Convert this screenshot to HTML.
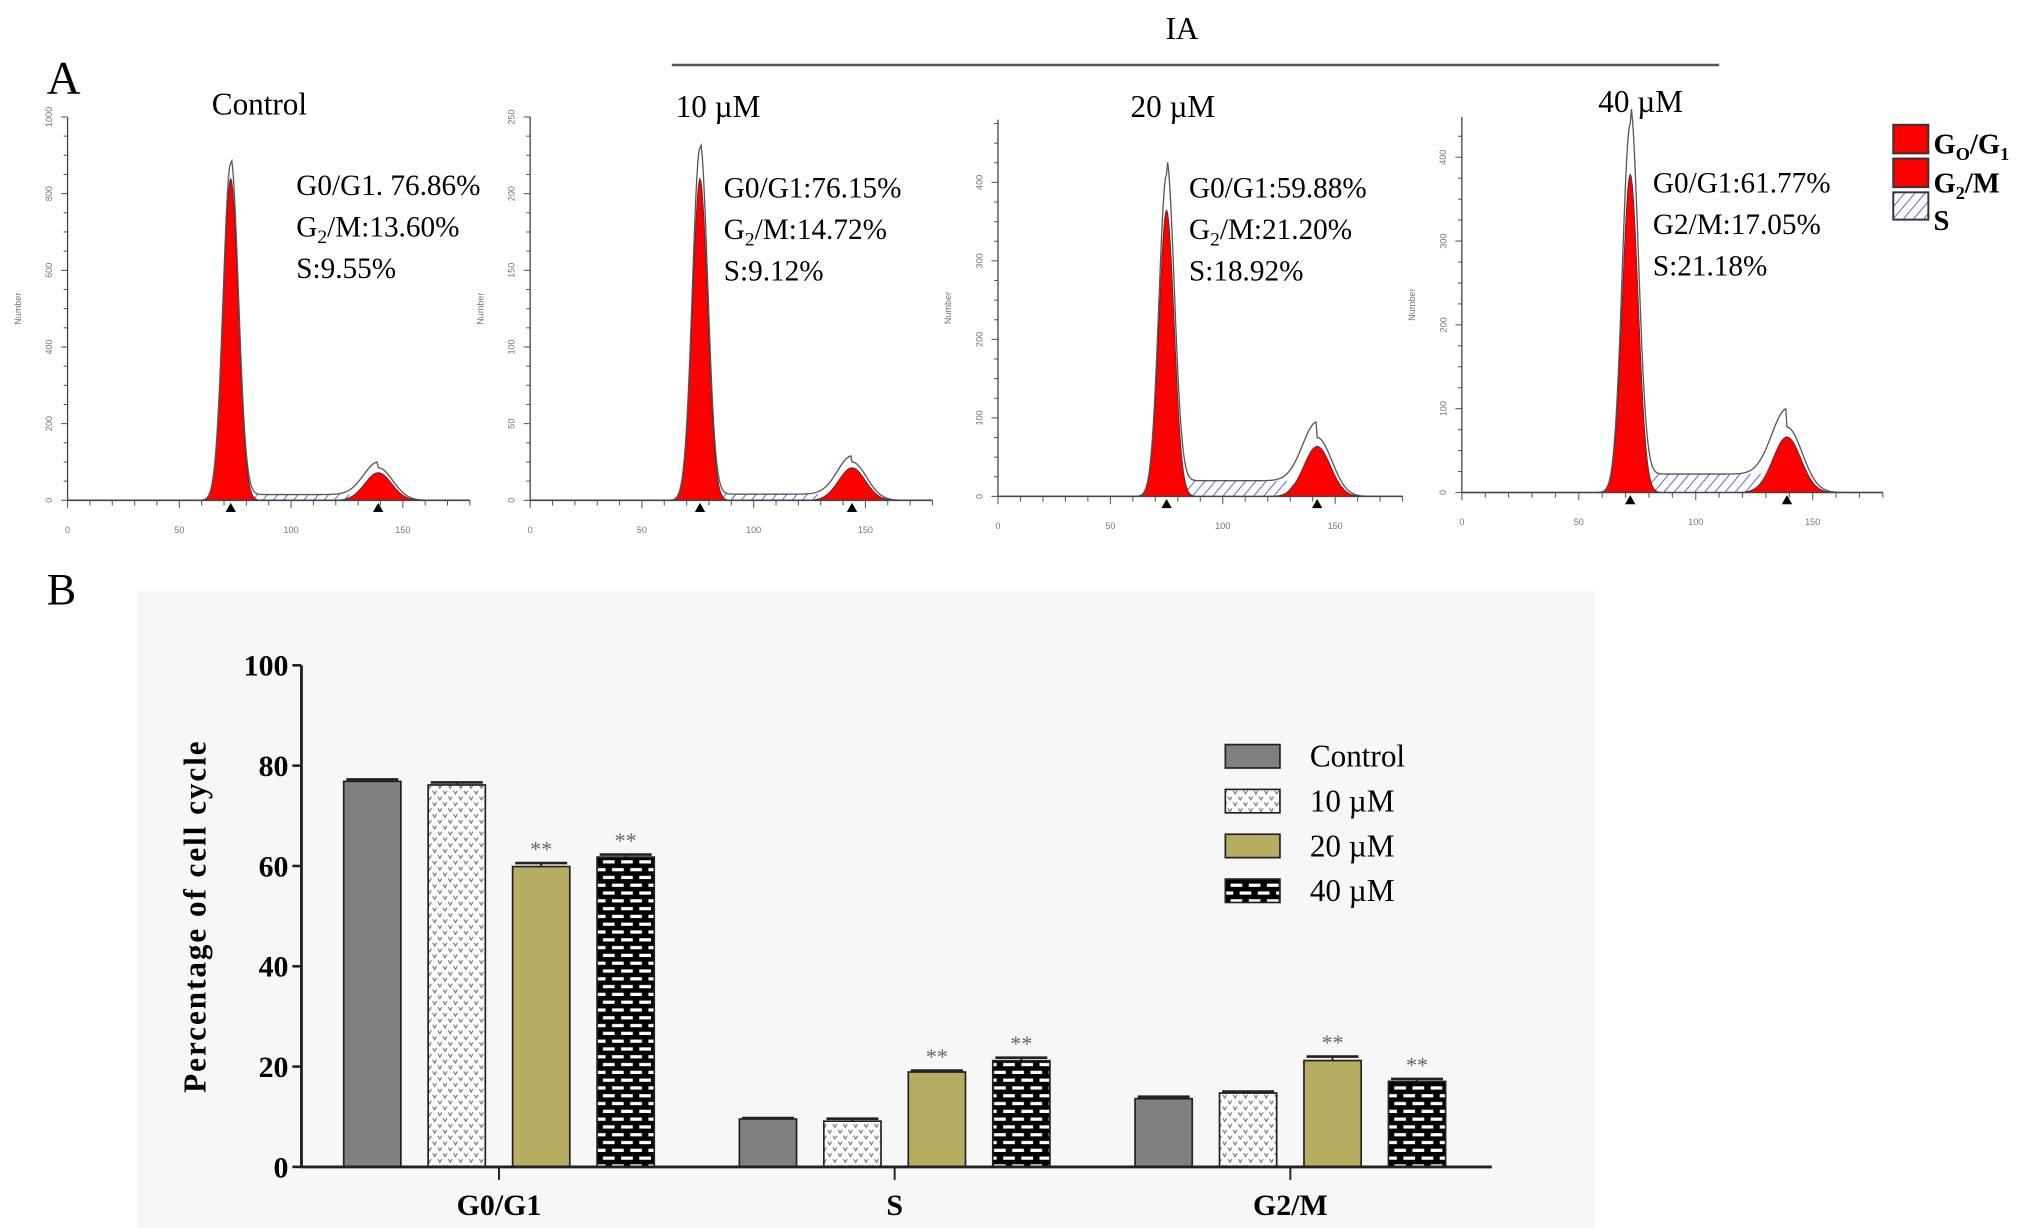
<!DOCTYPE html>
<html><head><meta charset="utf-8"><style>
html,body{margin:0;padding:0;background:#fff;}
svg{display:block;}
text{font-family:"Liberation Serif",serif;}
.sm{font-family:"Liberation Sans",sans-serif;font-size:7px;fill:#777;}
</style></head><body>
<svg id="fig" width="2031" height="1228" viewBox="0 0 1563 945" xmlns="http://www.w3.org/2000/svg">
<defs>
<pattern id="hatch" width="6" height="6" patternUnits="userSpaceOnUse" patternTransform="rotate(40)">
<rect width="6" height="6" fill="#fff"/><line x1="0" y1="0" x2="0" y2="6" stroke="#6a6ad8" stroke-width="1.6"/></pattern>
<pattern id="dots" width="8" height="9" patternUnits="userSpaceOnUse">
<rect width="8" height="9" fill="#fff"/><path d="M1 1 L2.5 3.5 L4 1 M5 5.5 L6.5 8 L8 5.5 M-3 5.5 L-1.5 8 L0 5.5" stroke="#777" stroke-width="0.9" fill="none"/></pattern>
<pattern id="brick" width="14" height="12" patternUnits="userSpaceOnUse">
<rect width="14" height="12" fill="#000"/><rect x="2" y="2" width="9" height="2.5" fill="#fff"/><rect x="9" y="8" width="9" height="2.5" fill="#fff"/><rect x="-5" y="8" width="9" height="2.5" fill="#fff"/></pattern>
</defs>
<text x="36" y="72" font-size="36">A</text>
<text x="897" y="30" font-size="24">IA</text>
<line x1="517" y1="50" x2="1323" y2="50" stroke="#555" stroke-width="2"/>
<g id="hist"></g>
<g>
<rect x="1457" y="96" width="27" height="22" fill="#ff0000" stroke="#333" stroke-width="1.5"/>
<text x="1488" y="118" font-size="22" font-weight="bold">G<tspan font-size="14" dy="5">O</tspan><tspan dy="-5">/G</tspan><tspan font-size="14" dy="5">1</tspan></text>
<rect x="1457" y="122" width="27" height="22" fill="#ff0000" stroke="#333" stroke-width="1.5"/>
<text x="1488" y="148" font-size="22" font-weight="bold">G<tspan font-size="14" dy="5">2</tspan><tspan dy="-5">/M</tspan></text>
<rect x="1457" y="148" width="27" height="21" fill="url(#hatch)" stroke="#333" stroke-width="1.5"/>
<text x="1488" y="177" font-size="22" font-weight="bold">S</text>
</g>
<text x="36" y="465" font-size="34">B</text>
<rect x="105" y="455" width="1123" height="490" fill="#f7f7f7"/>
<g id="bars"></g>
</svg>
<script>
// ---------- Panel A histogram data ----------
const panelTitles = ["Control", "10 µM", "20 µM", "40 µM"];
const g1Pos = [73, 76, 75, 72];
const g1Height = [880, 230, 410, 440];
const g1Red = [840, 210, 365, 380];
const g2Pos = [139, 144, 142, 139];
const g2Height = [85, 25, 75, 78];
const sLevel = [15, 4, 20, 22];
const yMaxVals = [1000, 250, 480, 448];
const yTickStep = [200, 50, 100, 100];
const statG1 = ["G0/G1. 76.86%", "G0/G1:76.15%", "G0/G1:59.88%", "G0/G1:61.77%"];
const statG2 = ["13.60%", "14.72%", "21.20%", "17.05%"];
const statS = ["S:9.55%", "S:9.12%", "S:18.92%", "S:21.18%"];
const xTicks = [0, 50, 100, 150];
// geometry (layout only)
const P = [{x0:52,y0:385,top:90,xs:1.72,tx:163,ty:88,sx:228},
           {x0:408,y0:385,top:90,xs:1.72,tx:520,ty:90,sx:557},
           {x0:768,y0:382,top:92,xs:1.73,tx:870,ty:90,sx:915},
           {x0:1125,y0:379,top:90,xs:1.8,tx:1230,ty:86,sx:1272}];
const NS = "http://www.w3.org/2000/svg";
function mk(tag, attrs, parent){const e=document.createElementNS(NS,tag);for(const k in attrs)e.setAttribute(k,attrs[k]);parent.appendChild(e);return e;}
const H = document.getElementById('hist');
function gauss(x,m,s){return Math.exp(-0.5*((x-m)/s)**2);}
P.forEach((p,i)=>{
  const g = mk('g',{},H);
  
  
  const X = v=>p.x0+v*p.xs, Y = v=>p.y0-(v/yMaxVals[i])*(p.y0-p.top);
  let sp = `M${X(g1Pos[i])},${Y(0)}`;
  for(let v=g1Pos[i]; v<=g2Pos[i]; v+=1){ const s=sLevel[i]*Math.min(1,(v-g1Pos[i]+2)/6)*Math.min(1,(g2Pos[i]-v+2)/6); sp+=` L${X(v)},${Y(s)}`; }
  sp+=` L${X(g2Pos[i])},${Y(0)} Z`;
  const sr = mk('path',{d:sp,fill:'url(#hatch)',stroke:'none'},g);
  
  
  [[g1Pos[i],g1Red[i],3.4],[g2Pos[i],g2Height[i]*0.85,6]].forEach((pk,j)=>{
    let d=`M${X(pk[0]-4*pk[2])},${Y(0)}`;
    for(let v=pk[0]-4*pk[2]; v<=pk[0]+4*pk[2]; v+=0.5) d+=` L${X(v)},${Y(pk[1]*gauss(v,pk[0],pk[2]))}`;
    d+=' Z';
    const r = mk('path',{d:d,fill:'#ff0000',stroke:'#333','stroke-width':0.6},g);
    
    
  });
  let od='';
  for(let v=0; v<=180; v+=0.5){
    let s = (v>g1Pos[i] && v<g2Pos[i]) ? sLevel[i] : 0;
    const y = g1Height[i]*gauss(v,g1Pos[i],3.4)+g2Height[i]*gauss(v,g2Pos[i],6.5)+s;
    od += (v===0?'M':' L')+X(v)+','+Y(Math.max(y, g1Height[i]*gauss(v,g1Pos[i],3.4)))}
  const o = mk('path',{d:od,fill:'none',stroke:'#555','stroke-width':1},g);
  
  
  const ya = mk('line',{x1:p.x0,y1:p.top,x2:p.x0,y2:p.y0,stroke:'#444','stroke-width':1},g);
  
  
  const xa = mk('line',{x1:p.x0,y1:p.y0,x2:X(180),y2:p.y0,stroke:'#444','stroke-width':1.2},g);
  
  
  for(let v=0; v<=yMaxVals[i]; v+=yTickStep[i]/4){
    mk('line',{x1:p.x0-(v%yTickStep[i]===0?5:3),y1:Y(v),x2:p.x0,y2:Y(v),stroke:'#555','stroke-width':0.8},g);
    if(v%yTickStep[i]===0){const t=mk('text',{class:'sm',x:p.x0-12,y:Y(v),'text-anchor':'middle',transform:`rotate(-90 ${p.x0-12} ${Y(v)})`},g);t.textContent=v;
      
      }
  }
  for(let v=0; v<=180; v+=10) mk('line',{x1:X(v),y1:p.y0,x2:X(v),y2:p.y0+(v%50===0?6:4),stroke:'#555','stroke-width':0.8},g);
  xTicks.forEach(v=>{const t=mk('text',{class:'sm',x:X(v),y:p.y0+25,'text-anchor':'middle'},g);t.textContent=v;
    
    });
  const nl = mk('text',{class:'sm',x:p.x0-36,y:(p.top+p.y0)/2,'text-anchor':'middle',transform:`rotate(-90 ${p.x0-36} ${(p.top+p.y0)/2})`},g);
  nl.textContent='Number';
  
  
  [g1Pos[i],g2Pos[i]].forEach(v=>{const m=mk('path',{d:`M${X(v)-4},${p.y0+9} L${X(v)},${p.y0+2} L${X(v)+4},${p.y0+9} Z`,fill:'#000'},g);
    
    });
  const tt = mk('text',{x:p.tx,y:p.ty,'font-size':24},g); tt.textContent=panelTitles[i];
  
  
  const s1 = mk('text',{x:p.sx,y:p.ty+62,'font-size':22.5},g); s1.textContent=statG1[i];
  
  
  const s2 = mk('text',{x:p.sx,y:p.ty+94,'font-size':22.5},g);
  s2.innerHTML = i===3 ? 'G2/M:'+statG2[i] : 'G<tspan font-size="15" dy="5">2</tspan><tspan dy="-5">/M:'+statG2[i]+'</tspan>';
  
  
  const s3 = mk('text',{x:p.sx,y:p.ty+126,'font-size':22.5},g); s3.textContent=statS[i];
  
  
});

// ---------- Panel B bar chart data ----------
const categories = ["G0/G1", "S", "G2/M"];
const seriesNames = ["Control", "10 µM", "20 µM", "40 µM"];
const controlVals = [76.86, 9.55, 13.60];
const uM10Vals = [76.15, 9.12, 14.72];
const uM20Vals = [59.88, 18.92, 21.20];
const uM40Vals = [61.77, 21.18, 17.05];
const errVals = [[0.4,0.2,0.4],[0.5,0.5,0.3],[0.7,0.3,0.8],[0.5,0.6,0.5]];
const signif = [[false,false,false],[false,false,false],[true,true,true],[true,true,true]];
const yTicksB = [0, 20, 40, 60, 80, 100];
const series = [controlVals, uM10Vals, uM20Vals, uM40Vals];
const fills = ['#808080','url(#dots)','#b7ad62','url(#brick)'];
const B = document.getElementById('bars');
const ax0 = 232, ay0 = 898, ayTop = 512, axEnd = 1148;
const yB = v => ay0 - v/100*(ay0-ayTop);
const xB = i => 384 + i*304.5;
const bw = 44, pitch = 65;
yTicksB.forEach(v=>{
  mk('line',{x1:ax0-7,y1:yB(v),x2:ax0,y2:yB(v),stroke:'#222','stroke-width':2},B);
  const t=mk('text',{x:ax0-10,y:yB(v)+8,'text-anchor':'end','font-size':23,'font-weight':'bold'},B); t.textContent=v;
  
  
});
series.forEach((vals,s)=>{
  vals.forEach((v,c)=>{
    const cx = xB(c) + (s-1.5)*pitch;
    const r = mk('rect',{x:cx-bw/2,y:yB(v),width:bw,height:ay0-yB(v),fill:fills[s],stroke:'#222','stroke-width':1.3},B);
    
    
    const e = errVals[s][c];
    mk('line',{x1:cx,y1:yB(v),x2:cx,y2:yB(v+e),stroke:'#222','stroke-width':1.5},B);
    mk('line',{x1:cx-bw/2+2,y1:yB(v+e),x2:cx+bw/2-2,y2:yB(v+e),stroke:'#222','stroke-width':2},B);
    if(signif[s][c]){const t=mk('text',{x:cx,y:yB(v+e)-5,'text-anchor':'middle','font-size':17,fill:'#666'},B); t.textContent='**';
      
      }
  });
});
const yax = mk('line',{x1:ax0,y1:ayTop,x2:ax0,y2:ay0,stroke:'#222','stroke-width':2.2},B);


const xax = mk('line',{x1:ax0,y1:ay0,x2:axEnd,y2:ay0,stroke:'#222','stroke-width':2.2},B);


categories.forEach((c,i)=>{
  mk('line',{x1:xB(i),y1:ay0,x2:xB(i),y2:ay0+10,stroke:'#222','stroke-width':1.5},B);
  const t=mk('text',{x:xB(i),y:ay0+37,'text-anchor':'middle','font-size':23,'font-weight':'bold'},B); t.textContent=c;
  
  
});
const yt = mk('text',{x:158,y:705,'text-anchor':'middle','font-size':24,'font-weight':'bold','letter-spacing':'1.5',transform:'rotate(-90 158 705)'},B);
yt.textContent='Percentage of cell cycle';


seriesNames.forEach((n,s)=>{
  const ly = 582 + s*34.5;
  const lg = mk('g',{},B);
  
  
  mk('rect',{x:943,y:ly-9,width:42,height:18,fill:fills[s],stroke:'#222','stroke-width':1.3},lg);
  const t=mk('text',{x:1008,y:ly+8,'font-size':24},lg); t.textContent=n;
});
</script>
</body></html>
